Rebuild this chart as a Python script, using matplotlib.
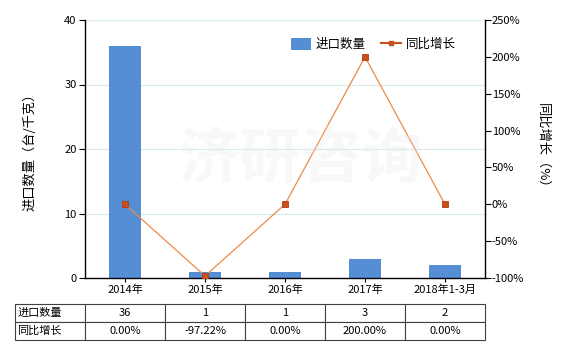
import matplotlib
matplotlib.use("Agg")
import matplotlib.pyplot as plt
from matplotlib.lines import Line2D
from matplotlib.patches import Patch

plt.rcParams['font.family'] = ['Noto Sans CJK SC', 'DejaVu Sans']

categories = ["2014年", "2015年", "2016年", "2017年", "2018年1-3月"]
import_qty = [36, 1, 1, 3, 2]
yoy_growth = [0.0, -97.22, 0.0, 200.0, 0.0]
qty_labels = ["36", "1", "1", "3", "2"]
yoy_labels = ["0.00%", "-97.22%", "0.00%", "200.00%", "0.00%"]
left_ticks = [0, 10, 20, 30, 40]
right_ticks = [-100, -50, 0, 50, 100, 150, 200, 250]

W, H = 580, 350
fig = plt.figure(figsize=(W / 100, H / 100), dpi=100)
L, R, T, B = 85, 485, 20, 278
ax = fig.add_axes([L / W, 1 - B / H, (R - L) / W, (B - T) / H])
x = list(range(len(categories)))

ax.bar(x, import_qty, width=0.4, color='#558ED5', zorder=2)
ax.set_xlim(-0.5, len(categories) - 0.5)
ax.set_ylim(0, 40)
ax.set_yticks(left_ticks)
ax.yaxis.grid(True, color='#D6ECEC', linewidth=0.8, zorder=0)
ax.set_axisbelow(True)
ax.set_xticks(x)
ax.set_xticklabels(categories, fontsize=8)
ax.tick_params(axis='y', labelsize=8, length=4, width=0.8, pad=2)
ax.tick_params(axis='x', length=3, width=0.8, pad=2)
for s in ['top', 'right']:
    ax.spines[s].set_visible(False)
ax.spines['left'].set_linewidth(1)
ax.spines['bottom'].set_linewidth(1)
ax.set_ylabel("进口数量（台/千克）", fontsize=9.5, labelpad=20)

ax2 = ax.twinx()
ax2.plot(x, yoy_growth, color='#F0894A', linewidth=0.9, marker='s', markersize=4,
         markerfacecolor='#C8501A', markeredgecolor='#B03A10', markeredgewidth=0.6, zorder=3)
ax2.set_ylim(-100, 250)
ax2.set_yticks(right_ticks)
ax2.set_yticklabels([f"{v}%" for v in right_ticks])
ax2.tick_params(axis='y', labelsize=8, length=4, width=0.8, pad=1)
for s in ['top', 'left', 'bottom']:
    ax2.spines[s].set_visible(False)
ax2.spines['right'].set_linewidth(1)
ax2.set_ylabel("同比增长（%）", fontsize=9.5, rotation=-90, labelpad=18)

# watermark
fig.text(300 / W, 1 - 160 / H, "济研咨询", fontsize=44, color='#E8E8E8', alpha=0.3,
         ha='center', va='center', fontweight='bold', zorder=10)

handles = [Patch(facecolor='#558ED5'),
           Line2D([0], [0], color='#C8501A', linewidth=1.5, marker='s', markersize=3,
                  markerfacecolor='#C8501A')]
ax2.legend(handles, ["进口数量", "同比增长"], loc='upper right', bbox_to_anchor=(0.955, 0.975),
           ncol=2, frameon=False, fontsize=9, handlelength=1.6, handleheight=1.1,
           columnspacing=1.2, handletextpad=0.4)

# table
cell_text = [["进口数量"] + qty_labels, ["同比增长"] + yoy_labels]
tw = 485 - 15
col_w = [70 / tw] + [80 / tw] * len(categories)
tbl = ax.table(cellText=cell_text, colWidths=col_w, cellLoc='center',
               bbox=[(15 - L) / (R - L), (B - 340) / (B - T), tw / (R - L), 36 / (B - T)])
tbl.auto_set_font_size(False)
tbl.set_fontsize(8)
for (r, c), cell in tbl.get_celld().items():
    cell.set_edgecolor('#404040')
    cell.set_linewidth(0.8)
    if c == 0:
        cell.get_text().set_ha('left')
        cell.PAD = 0.03

fig.savefig("out.png", dpi=100)
